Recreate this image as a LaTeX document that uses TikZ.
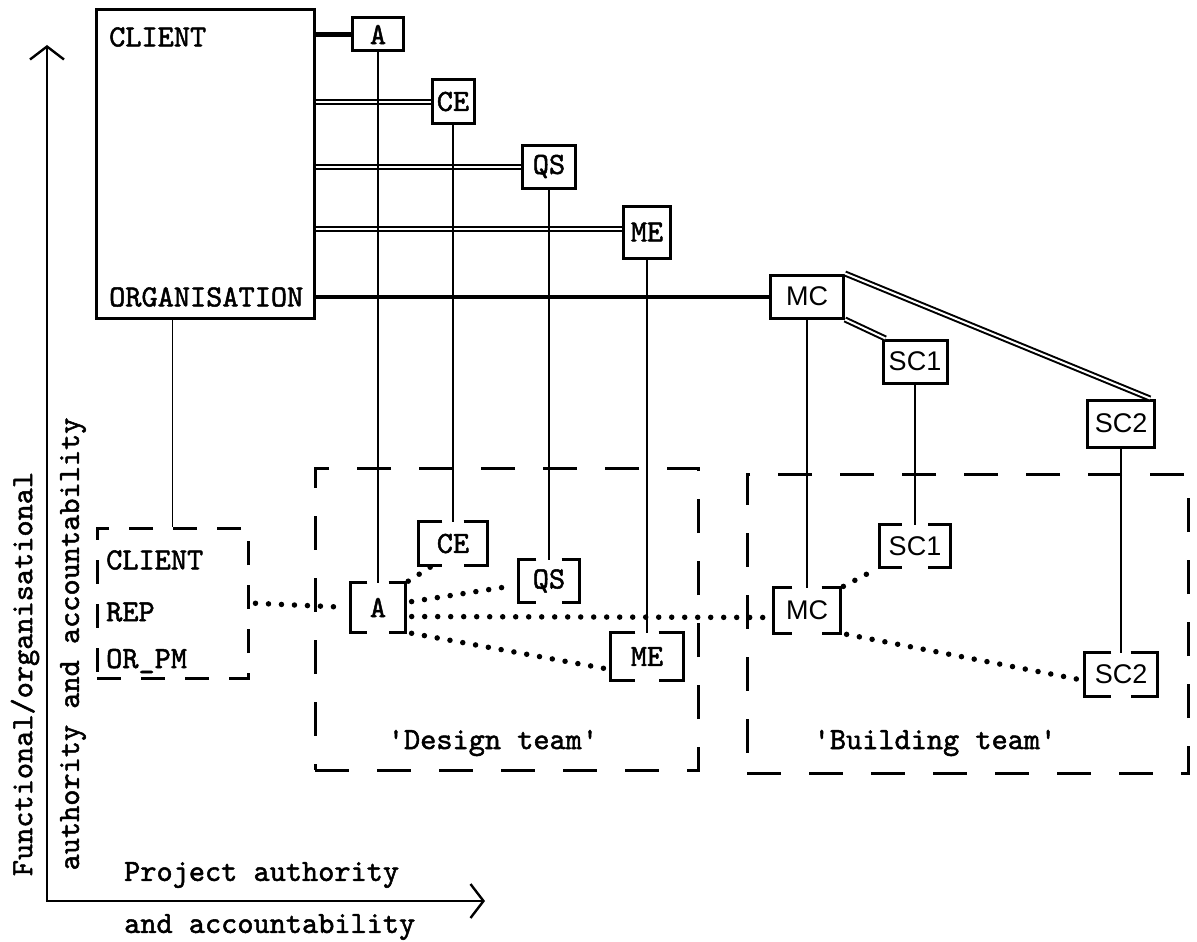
\documentclass[tikz,border=0pt]{standalone}
\usepackage{fontspec}
\setmainfont{lmmono10-regular.otf}[FakeBold=1.6]
\newfontfamily\sansf{Liberation Sans}
\usetikzlibrary{arrows.meta}
\newcommand\drawbrk[2]{%
  \draw[brk] ([xshift=#2]#1.north west) -- (#1.north west) -- (#1.south west) -- ([xshift=#2]#1.south west);
  \draw[brk] ([xshift=-#2]#1.north east) -- (#1.north east) -- (#1.south east) -- ([xshift=-#2]#1.south east);}
\begin{document}
\begin{tikzpicture}[x=1pt,y=-1pt,
  every node/.style={font=\fontsize{30.8}{34}\selectfont, inner sep=0pt},
  box/.style={draw, line width=3pt},
  brk/.style={line width=3.2pt},
  thinline/.style={line width=1.8pt},
  dbl/.style={double, line width=2pt, double distance=2pt},
  heavy/.style={line width=4pt},
  dotted line/.style={line width=5.5pt, line cap=round, dash pattern=on 0pt off 13pt, shorten >=6pt, shorten <=6pt},
  team/.style={draw, line width=3pt, dash pattern=on 34pt off 28pt},
  repbox/.style={draw, line width=3pt, dash pattern=on 24pt off 20pt},
  axis/.style={line width=2.4pt, -{Straight Barb[length=13pt,width=34pt,line width=2.4pt]}},
  sans/.style={font=\sansf\fontsize{27}{30}\selectfont}
]
\useasboundingbox (0,0) rectangle (1197,942);

% axes
\coordinate (origin) at (47,901);
\coordinate (ytip) at (47,45);
\coordinate (xtip) at (485,901);
\draw[axis] (origin) -- (ytip);
\draw[axis] ([xshift=-1.2pt]origin) -- (xtip);
\node[rotate=90] (ylab1) at (25,674) {Functional/organisational};
\node[rotate=90] (ylab2) at (73,644) {authority and accountability};
\node[anchor=west] (xlab1) at (124,875) {Project authority};
\node[anchor=west] (xlab2) at (124,927) {and accountability};

% upper organisation
\node[box, minimum width=218pt, minimum height=308pt] (client) at (205,164) {};
\node[anchor=west] (clientT) at (109,37) {CLIENT};
\node[anchor=west] (orgT) at (109,297) {ORGANISATION};

\node[box, minimum width=51pt, minimum height=33pt] (A) at (378,34.5) {A};
\node[box, minimum width=42pt, minimum height=43pt] (CE) at (453,101.5) {CE};
\node[box, minimum width=53pt, minimum height=43pt] (QS) at (549,166.5) {QS};
\node[box, minimum width=47pt, minimum height=52pt] (ME) at (647,232) {ME};
\node[box, sans, minimum width=73pt, minimum height=43pt] (MC) at (807,296.5) {MC};
\node[box, sans, minimum width=64pt, minimum height=43pt] (SC1) at (915,361.5) {SC1};
\node[box, sans, minimum width=67pt, minimum height=47pt] (SC2) at (1121,423.5) {SC2};

% lower project teams
\node[team, minimum width=383pt, minimum height=302pt] (design) at (506.5,619) {};
\node[team, minimum width=441pt, minimum height=299pt] (building) at (967.5,623.5) {};
\node (designT) at (493,743) {\textquotesingle Design team\textquotesingle};
\node (buildingT) at (935,743) {\textquotesingle Building team\textquotesingle};

\node[repbox, minimum width=151pt, minimum height=150pt] (rep) at (172.5,603) {};
\node[anchor=west] (repT1) at (106,560) {CLIENT};
\node[anchor=west] (repT2) at (106,612) {REP};
\node[anchor=west] (repT3) at (106,661) {OR\_PM};

\node[minimum width=55pt, minimum height=49pt] (lA) at (378,607.5) {A};
\node[minimum width=69pt, minimum height=43pt] (lCE) at (453,543.5) {CE};
\node[minimum width=61pt, minimum height=42pt] (lQS) at (549,581) {QS};
\node[minimum width=73pt, minimum height=47pt] (lME) at (647,656.5) {ME};
\node[sans, minimum width=67pt, minimum height=45pt] (lMC) at (807,610.5) {MC};
\node[sans, minimum width=70pt, minimum height=42pt] (lSC1) at (915,546) {SC1};
\node[sans, minimum width=73pt, minimum height=43pt] (lSC2) at (1121,674.5) {SC2};
\drawbrk{lA}{17pt}
\drawbrk{lCE}{24pt}
\drawbrk{lQS}{18pt}
\drawbrk{lME}{25pt}
\drawbrk{lMC}{19pt}
\drawbrk{lSC1}{22pt}
\drawbrk{lSC2}{27pt}

% organisational links
\draw[line width=4.5pt] (A.west -| client.east) -- (A.west);
\draw[dbl] (CE.west -| client.east) -- (CE.west);
\draw[dbl] (QS.west -| client.east) -- (QS.west);
\draw[dbl] ([yshift=3pt]ME.west -| client.east) -- ([yshift=3pt]ME.west);
\draw[heavy] (MC.west -| client.east) -- (MC.west);
\draw[dbl] (MC.south east) -- ([xshift=4pt]SC1.north west);
\draw[dbl] (MC.north east) -- ([xshift=-6pt]SC2.north east);

% vertical links
\draw[thinline] (rep.north |- client.south) -- (rep.north);
\draw[thinline] (A.south) -- (lA.north);
\draw[thinline] (CE.south) -- (lCE.north);
\draw[thinline] (QS.south) -- (lQS.north);
\draw[thinline] (ME.south) -- (lME.north);
\draw[thinline] (MC.south) -- (lMC.north);
\draw[thinline] (SC1.south) -- (lSC1.north);
\draw[thinline] (SC2.south) -- (lSC2.north);

% project links (dotted)
\draw[dotted line] (rep.east) -- (lA.west);
\draw[dotted line, shorten <=3pt, shorten >=3pt] (lA.north east) -- ([xshift=15pt]lCE.south west);
\draw[dotted line] ([yshift=5pt]lA.east) -- ([yshift=-4pt]lQS.west);
\draw[dotted line] ([yshift=-9pt]lA.east) -- ([yshift=-7pt]lMC.west);
\draw[dotted line] (lA.south east) -- ([yshift=-13pt]lME.west);
\draw[dotted line, shorten <=3pt, shorten >=3pt] (lMC.north east) -- (lSC1.south west);
\draw[dotted line] (lMC.south east) -- ([yshift=-6pt]lSC2.west);
\end{tikzpicture}
\end{document}
